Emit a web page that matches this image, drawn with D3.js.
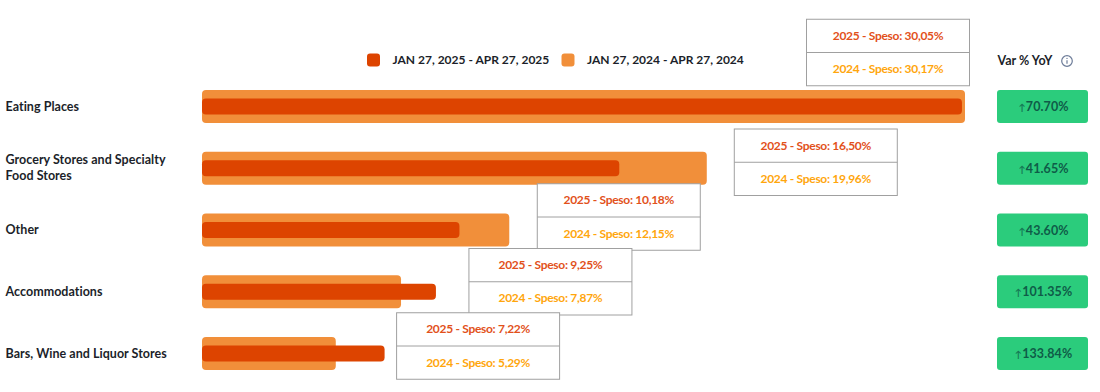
<!DOCTYPE html>
<html>
<head>
<meta charset="utf-8">
<style>
  html, body { margin: 0; padding: 0; background: #fff; }
  svg { display: block; }
  text { font-family: "Lato", sans-serif; }
</style>
<script src="https://cdnjs.cloudflare.com/ajax/libs/d3/7.8.5/d3.min.js"></script>
</head>
<body>
<div id="chart"></div>
<script>
// Chart data
const categories = ["Eating Places", "Grocery Stores and Specialty Food Stores", "Other", "Accommodations", "Bars, Wine and Liquor Stores"];
const spend2025 = [30.05, 16.50, 10.18, 9.25, 7.22];
const spend2024 = [30.17, 19.96, 12.15, 7.87, 5.29];
const yoy = [70.70, 41.65, 43.60, 101.35, 133.84];
const legendLabels = ["JAN 27, 2025 - APR 27, 2025", "JAN 27, 2024 - APR 27, 2024"];

// Colours
const color2025 = "#dd4400";
const color2024 = "#f18f3a";
const text2025 = "#e2511b";
const text2024 = "#ffa60d";
const ink = "#1c1f2a";

const width = 1100;
const height = 392;

const svg = d3.select("#chart")
    .append("svg")
    .attr("width", width)
    .attr("height", height);

// x: spend share in %, y: row centres
const x = d3.scaleLinear().domain([0, 30.17]).range([202, 965]);
const y = d3.scalePoint().domain(d3.range(categories.length)).range([106.5, 353.5]);
const commaFormat = d3.format(".2f");

// Frozen tooltips sit at hand-read offsets from the end of the longest bar / row centre
const tipDx = [-158.5, 27.5, 28, 33, 12];
const tipDy = [-54, -6, -13, -10, -7.5];
const tipWidth = 163;
const tipHeight = 66.5;

// Category labels, wrapped at the label column width
const labels = svg.append("g").selectAll("text")
    .data(categories)
    .enter()
    .append("text")
    .attr("x", 5.5)
    .attr("y", (d, i) => y(i))
    .attr("font-size", 12.5)
    .attr("font-weight", 700)
    .attr("letter-spacing", 0.03)
    .attr("fill", ink);

labels.each(function (d) {
    const node = d3.select(this);
    const words = d.split(" ");
    const lines = [];
    let line = [];
    words.forEach(word => {
        line.push(word);
        if (line.join(" ").length > 28) {
            line.pop();
            lines.push(line.join(" "));
            line = [word];
        }
    });
    lines.push(line.join(" "));
    const startDy = 4 - (lines.length - 1) * 8;
    lines.forEach((text, i) => {
        node.append("tspan")
            .attr("x", 5.5)
            .attr("dy", i === 0 ? startDy : 16)
            .text(text);
    });
});

// 2024 bars (wide, behind)
svg.append("g").selectAll("rect")
    .data(spend2024)
    .enter()
    .append("rect")
    .attr("x", x(0))
    .attr("y", (d, i) => y(i) - 16.5)
    .attr("width", d => x(d) - x(0))
    .attr("height", 33)
    .attr("rx", 4)
    .attr("fill", color2024);

// 2025 bars (narrow, in front)
svg.append("g").selectAll("rect")
    .data(spend2025)
    .enter()
    .append("rect")
    .attr("x", x(0))
    .attr("y", (d, i) => y(i) - 8)
    .attr("width", d => x(d) - x(0))
    .attr("height", 16)
    .attr("rx", 4)
    .attr("fill", color2025);

// Legend
const legendX = [367, 561.5];
const legend = svg.append("g").selectAll("g")
    .data(legendLabels)
    .enter()
    .append("g")
    .attr("transform", (d, i) => `translate(${legendX[i]}, 60)`);

legend.append("rect")
    .attr("y", -6.5)
    .attr("width", 13)
    .attr("height", 13)
    .attr("rx", 3)
    .attr("fill", (d, i) => i === 0 ? color2025 : color2024);

legend.append("text")
    .attr("x", 25.5)
    .attr("y", 4)
    .attr("font-size", 12)
    .attr("font-weight", 700)
    .attr("fill", ink)
    .text(d => d);

// Var % YoY header with info icon
svg.append("text")
    .attr("x", 997.5)
    .attr("y", 65)
    .attr("font-size", 12.5)
    .attr("font-weight", 700)
    .attr("fill", ink)
    .text("Var % YoY");

const info = svg.append("g").attr("transform", "translate(1067, 61)");
info.append("circle")
    .attr("r", 5.3)
    .attr("fill", "none")
    .attr("stroke", "#6d7c99")
    .attr("stroke-width", 1.2);
info.append("line")
    .attr("y1", -0.8)
    .attr("y2", 2.8)
    .attr("stroke", "#6d7c99")
    .attr("stroke-width", 1.2);
info.append("circle")
    .attr("cy", -2.6)
    .attr("r", 0.7)
    .attr("fill", "#6d7c99");

// YoY badges
const badges = svg.append("g").selectAll("g")
    .data(yoy)
    .enter()
    .append("g")
    .attr("transform", (d, i) => `translate(997, ${y(i) - 16.5})`);

badges.append("rect")
    .attr("width", 91)
    .attr("height", 33)
    .attr("rx", 3)
    .attr("fill", "#2bcc7c");

const badgeText = badges.append("text")
    .attr("x", 46.5)
    .attr("y", 21)
    .attr("text-anchor", "middle")
    .attr("font-size", 12.5)
    .attr("font-weight", 700)
    .attr("fill", "#0f5c48");

badgeText.append("tspan")
    .attr("font-size", 9.5)
    .attr("fill-opacity", 0.75)
    .text("\u2191 ");

badgeText.append("tspan")
    .attr("dx", -2)
    .attr("letter-spacing", 0.1)
    .text(d => `${commaFormat(d)}%`);

// Tooltips, later rows over earlier ones
const tips = svg.append("g").selectAll("g")
    .data(categories)
    .enter()
    .append("g")
    .attr("transform", (d, i) => {
        const end = x(Math.max(spend2025[i], spend2024[i]));
        return `translate(${end + tipDx[i]}, ${y(i) + tipDy[i] - tipHeight / 2})`;
    });

tips.append("rect")
    .attr("width", tipWidth)
    .attr("height", tipHeight)
    .attr("fill", "#fff")
    .attr("stroke", "#a0a0a0")
    .attr("stroke-width", 1);

tips.append("line")
    .attr("x1", 0)
    .attr("x2", tipWidth)
    .attr("y1", tipHeight / 2)
    .attr("y2", tipHeight / 2)
    .attr("stroke", "#a0a0a0")
    .attr("stroke-width", 1);

tips.append("text")
    .attr("x", tipWidth / 2)
    .attr("y", tipHeight / 4 + 4)
    .attr("text-anchor", "middle")
    .attr("font-size", 12)
    .attr("font-weight", 700)
    .attr("letter-spacing", -0.3)
    .attr("fill", text2025)
    .text((d, i) => `2025 - Speso: ${commaFormat(spend2025[i]).replace(".", ",")}%`);

tips.append("text")
    .attr("x", tipWidth / 2)
    .attr("y", tipHeight * 3 / 4 + 4)
    .attr("text-anchor", "middle")
    .attr("font-size", 12)
    .attr("font-weight", 700)
    .attr("letter-spacing", -0.3)
    .attr("fill", text2024)
    .text((d, i) => `2024 - Speso: ${commaFormat(spend2024[i]).replace(".", ",")}%`);
</script>
</body>
</html>
